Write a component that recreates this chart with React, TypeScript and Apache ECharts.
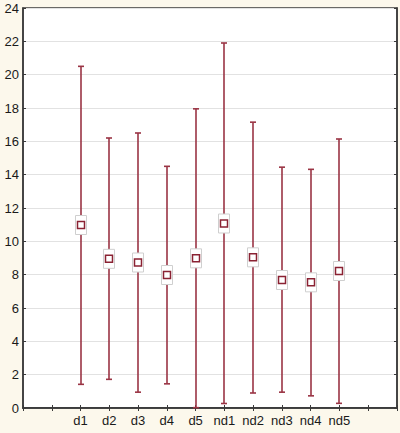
import React, { useEffect, useRef } from "react";
import * as echarts from "echarts";

const groups = ["d1", "d2", "d3", "d4", "d5", "nd1", "nd2", "nd3", "nd4", "nd5"];
const means = [10.98, 8.95, 8.73, 7.98, 8.98, 11.07, 9.04, 7.68, 7.54, 8.22];
const upper = [20.5, 16.2, 16.5, 14.5, 17.95, 21.9, 17.15, 14.45, 14.32, 16.14];
const lower = [1.42, 1.72, 0.95, 1.45, 0.02, 0.27, 0.9, 0.95, 0.73, 0.28];
const yTicks = [0, 2, 4, 6, 8, 10, 12, 14, 16, 18, 20, 22, 24];

export default function App() {
  const ref = useRef<HTMLDivElement>(null);
  useEffect(() => {
    if (!ref.current) return;
    const chart = echarts.init(ref.current, null, { renderer: "svg" });
    const cats = ["", "", ...groups, "", ""];
    const data = groups.map((g, i) => [i + 2, lower[i], upper[i], means[i]]);
    const lineColor = "#9a3444";
    const axisColor = "#3a3a3a";
    const font = { fontFamily: "Liberation Sans, Arial, sans-serif", fontSize: 13, color: "#1a1a1a" };
    chart.setOption({
      animation: false,
      backgroundColor: "#fcf8ec",
      grid: {
        left: 23,
        right: 3,
        top: 8,
        bottom: 25,
        show: true,
        backgroundColor: "#ffffff",
        borderColor: axisColor,
        borderWidth: 1.5,
      },
      xAxis: [
        {
          type: "category",
          data: cats,
          boundaryGap: false,
          position: "bottom",
          axisLine: { lineStyle: { color: axisColor, width: 1.5 } },
          axisTick: { show: true, inside: true, length: 3, lineStyle: { color: axisColor } },
          axisLabel: { ...font, margin: 6, interval: 0 },
          splitLine: { show: false },
        },
        {
          type: "category",
          data: cats,
          boundaryGap: false,
          position: "top",
          axisLine: { lineStyle: { color: axisColor, width: 1.5 } },
          axisTick: { show: true, inside: true, length: 3, lineStyle: { color: axisColor } },
          axisLabel: { show: false },
          splitLine: { show: false },
        },
      ],
      yAxis: [
        {
          type: "value",
          min: yTicks[0],
          max: yTicks[yTicks.length - 1],
          interval: 2,
          position: "left",
          axisLine: { show: true, lineStyle: { color: axisColor, width: 1.5 } },
          axisTick: { show: true, inside: true, length: 3, lineStyle: { color: axisColor } },
          axisLabel: { ...font, margin: 4 },
          splitLine: { show: true, lineStyle: { color: "#e2e2e2", width: 1 } },
        },
        {
          type: "value",
          min: yTicks[0],
          max: yTicks[yTicks.length - 1],
          interval: 2,
          position: "right",
          axisLine: { show: true, lineStyle: { color: axisColor, width: 1.5 } },
          axisTick: { show: true, inside: true, length: 3, lineStyle: { color: axisColor } },
          axisLabel: { show: false },
          splitLine: { show: false },
        },
      ],
      series: [
        {
          type: "custom",
          xAxisIndex: 0,
          yAxisIndex: 0,
          encode: { x: 0, y: [1, 2, 3] },
          data,
          renderItem: (params: any, api: any) => {
            const x = api.value(0);
            const lo = api.coord([x, api.value(1)]);
            const hi = api.coord([x, api.value(2)]);
            const m = api.coord([x, api.value(3)]);
            const cx = Math.round(lo[0]);
            const cap = 3;
            const ls = { stroke: lineColor, lineWidth: 1.6 };
            return {
              type: "group",
              children: [
                { type: "line", shape: { x1: cx, y1: lo[1], x2: cx, y2: hi[1] }, style: ls },
                { type: "line", shape: { x1: cx - cap, y1: hi[1], x2: cx + cap, y2: hi[1] }, style: ls },
                { type: "line", shape: { x1: cx - cap, y1: lo[1], x2: cx + cap, y2: lo[1] }, style: ls },
                {
                  type: "rect",
                  shape: { x: cx - 5.5, y: m[1] - 9.5, width: 11, height: 19 },
                  style: { fill: "#ffffff", stroke: "#cfcfcf", lineWidth: 1 },
                },
                {
                  type: "rect",
                  shape: { x: cx - 3.5, y: m[1] - 3.5, width: 7, height: 7 },
                  style: { fill: "#ffffff", stroke: "#8a2233", lineWidth: 1.5 },
                },
              ],
            };
          },
        },
      ],
    });
    return () => chart.dispose();
  }, []);
  return <div ref={ref} style={{ position: "fixed", left: 0, top: 0, width: 400, height: 433 }} />;
}
